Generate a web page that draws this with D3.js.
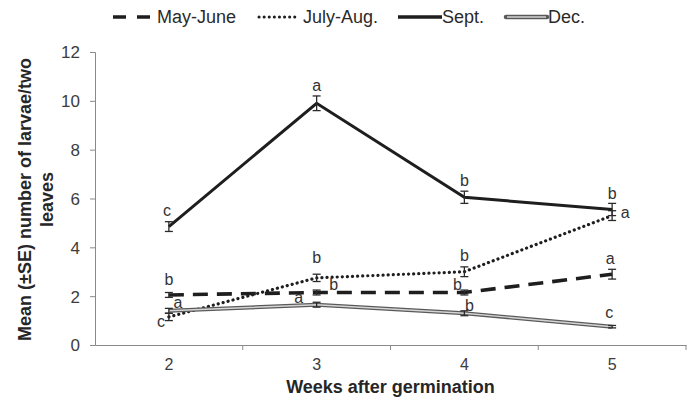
<!DOCTYPE html>
<html>
<head>
<meta charset="utf-8">
<script src="https://cdn.jsdelivr.net/npm/d3@7"></script>
<style>
  body { margin: 0; background: #fff; }
  text { font-family: "Liberation Sans", Arial, sans-serif; }
</style>
</head>
<body>
<div id="chart"></div>
<script>
const weeks = ["2", "3", "4", "5"];
const mayJune = [2.05, 2.15, 2.15, 2.9];
const mayJuneSE = [0.1, 0.1, 0.1, 0.2];
const julyAug = [1.15, 2.75, 3.0, 5.3];
const julyAugSE = [0.15, 0.15, 0.2, 0.2];
const sept = [4.85, 9.9, 6.05, 5.55];
const septSE = [0.2, 0.3, 0.25, 0.25];
const dec = [1.4, 1.65, 1.3, 0.75];
const decSE = [0.1, 0.1, 0.1, 0.05];
const mayJuneLetters = ["b", "b", "b", "a"];
const julyAugLetters = ["c", "b", "b", "a"];
const septLetters = ["c", "a", "b", "b"];
const decLetters = ["a", "a", "b", "c"];
const yTicks = [0, 2, 4, 6, 8, 10, 12];

const margin = {top: 52, right: 6, bottom: 59, left: 95},
    width = 692 - margin.left - margin.right,
    height = 404 - margin.top - margin.bottom;

const svg = d3.select("#chart").append("svg")
    .attr("width", 692)
    .attr("height", 404)
    .append("g")
    .attr("transform", "translate(" + margin.left + "," + margin.top + ")");

const x = d3.scaleBand().domain(weeks).range([0, width]);
const y = d3.scaleLinear().domain([0, 12]).range([height, 0]);
const cx = w => x(w) + x.bandwidth() / 2;

// axes
const yAxis = svg.append("g")
    .call(d3.axisLeft(y).tickValues(yTicks).tickSize(5).tickPadding(10));
const xAxis = svg.append("g")
    .attr("transform", "translate(0," + height + ")")
    .call(d3.axisBottom(x).tickSize(0).tickPadding(14));
xAxis.selectAll(".tickline")
    .data(d3.range(1, weeks.length + 1)).enter()
    .append("line")
    .attr("x1", i => i * x.bandwidth()).attr("x2", i => i * x.bandwidth())
    .attr("y1", 0).attr("y2", 5)
    .attr("stroke", "#8a8a8a");
[yAxis, xAxis].forEach(a => {
    a.select(".domain").attr("stroke", "#8a8a8a");
    a.selectAll(".tick line").attr("stroke", "#8a8a8a");
    a.selectAll("text").attr("fill", "#3c3c3c").style("font-size", "17px")
        .style("font-family", "'Liberation Sans', Arial, sans-serif");
});
yAxis.selectAll("text").attr("dy", "0.35em");
xAxis.selectAll(".tick text").style("font-size", "16px");

// axis titles
svg.append("text")
    .attr("x", width / 2)
    .attr("y", height + 48)
    .attr("text-anchor", "middle")
    .style("font-size", "18px").style("font-weight", "bold").attr("fill", "#262626")
    .text("Weeks after germination");
const yt = svg.append("text")
    .attr("transform", "translate(-64," + (height / 2 + 1) + ") rotate(-90)")
    .attr("text-anchor", "middle")
    .style("font-size", "18px").style("font-weight", "bold").attr("fill", "#262626");
yt.append("tspan").attr("x", 0).attr("dy", 0).text("Mean (\u00B1SE) number of larvae/two");
yt.append("tspan").attr("x", 0).attr("dy", "1.22em").text("leaves");

const line = d3.line().x((d, i) => cx(weeks[i])).y(d => y(d));

const series = [
    {name: "May-June", vals: mayJune, se: mayJuneSE, letters: mayJuneLetters,
     dash: "15,9", width: 3.6, legendDash: "13,11",
     pos: [[0, -16], [17, -8], [-7, -8], [-2, -16]]},
    {name: "July-Aug.", vals: julyAug, se: julyAugSE, letters: julyAugLetters,
     dash: "0.1,5", width: 3.2, dotted: true, legendDash: "0.1,5",
     pos: [[-8, 4], [0, -20], [0, -16], [13, -3]]},
    {name: "Sept.", vals: sept, se: septSE, letters: septLetters,
     dash: null, width: 3,
     pos: [[-2, -16], [0, -18], [0, -17], [0, -16]]},
    {name: "Dec.", vals: dec, se: decSE, letters: decLetters,
     dash: null, width: 2.4, dbl: true,
     pos: [[9, -8], [-18, -7], [5, -8], [-3, -14]]}
];

series.forEach(s => {
    if (s.dbl) {
        svg.append("path").datum(s.vals).attr("d", line)
            .attr("fill", "none").attr("stroke", "#5a5a5a").attr("stroke-width", 4);
        svg.append("path").datum(s.vals).attr("d", line)
            .attr("fill", "none").attr("stroke", "#d4d4d4").attr("stroke-width", 1.4);
    } else {
        svg.append("path").datum(s.vals).attr("d", line)
            .attr("fill", "none").attr("stroke", "#1e1e1e")
            .attr("stroke-width", s.width)
            .attr("stroke-dasharray", s.dash)
            .attr("stroke-linecap", s.dotted ? "round" : "butt");
    }
    // error bars
    const eb = svg.append("g").attr("stroke", "#2a2a2a").attr("stroke-width", 1.3);
    s.vals.forEach((v, i) => {
        const px = cx(weeks[i]);
        eb.append("line").attr("x1", px).attr("x2", px)
            .attr("y1", y(v - s.se[i])).attr("y2", y(v + s.se[i]));
        [v - s.se[i], v + s.se[i]].forEach(e => {
            eb.append("line").attr("x1", px - 4).attr("x2", px + 4)
                .attr("y1", y(e)).attr("y2", y(e));
        });
    });
    // letters
    s.letters.forEach((l, i) => {
        svg.append("text")
            .attr("x", cx(weeks[i]) + s.pos[i][0])
            .attr("y", y(s.vals[i]) + s.pos[i][1])
            .attr("dy", "0.35em")
            .attr("text-anchor", "middle")
            .style("font-size", "16px").attr("fill", "#333")
            .text(l);
    });
});

// legend
const legend = d3.select("svg").append("g").attr("transform", "translate(0,17)");
const legendItems = [
    {x0: 113, x1: 151, tx: 157, s: series[0]},
    {x0: 259, x1: 298, tx: 303, s: series[1]},
    {x0: 398, x1: 442, tx: 442, s: series[2]},
    {x0: 506, x1: 547, tx: 548, s: series[3]}
];
legendItems.forEach(it => {
    if (it.s.dbl) {
        legend.append("line").attr("x1", it.x0).attr("x2", it.x1)
            .attr("stroke", "#5a5a5a").attr("stroke-width", 4.5)
            .attr("stroke-linecap", "round");
        legend.append("line").attr("x1", it.x0 + 1).attr("x2", it.x1 - 1)
            .attr("stroke", "#d4d4d4").attr("stroke-width", 1.6);
    } else {
        legend.append("line").attr("x1", it.x0).attr("x2", it.x1)
            .attr("stroke", "#1e1e1e").attr("stroke-width", it.s.dotted ? 3 : 3.6)
            .attr("stroke-dasharray", it.s.legendDash || null)
            .attr("stroke-linecap", it.s.dotted ? "round" : "butt");
    }
    legend.append("text").attr("x", it.tx).attr("y", 0).attr("dy", "0.35em")
        .style("font-size", "18px").attr("fill", "#2a2a2a")
        .text(it.s.name);
});
</script>
</body>
</html>
